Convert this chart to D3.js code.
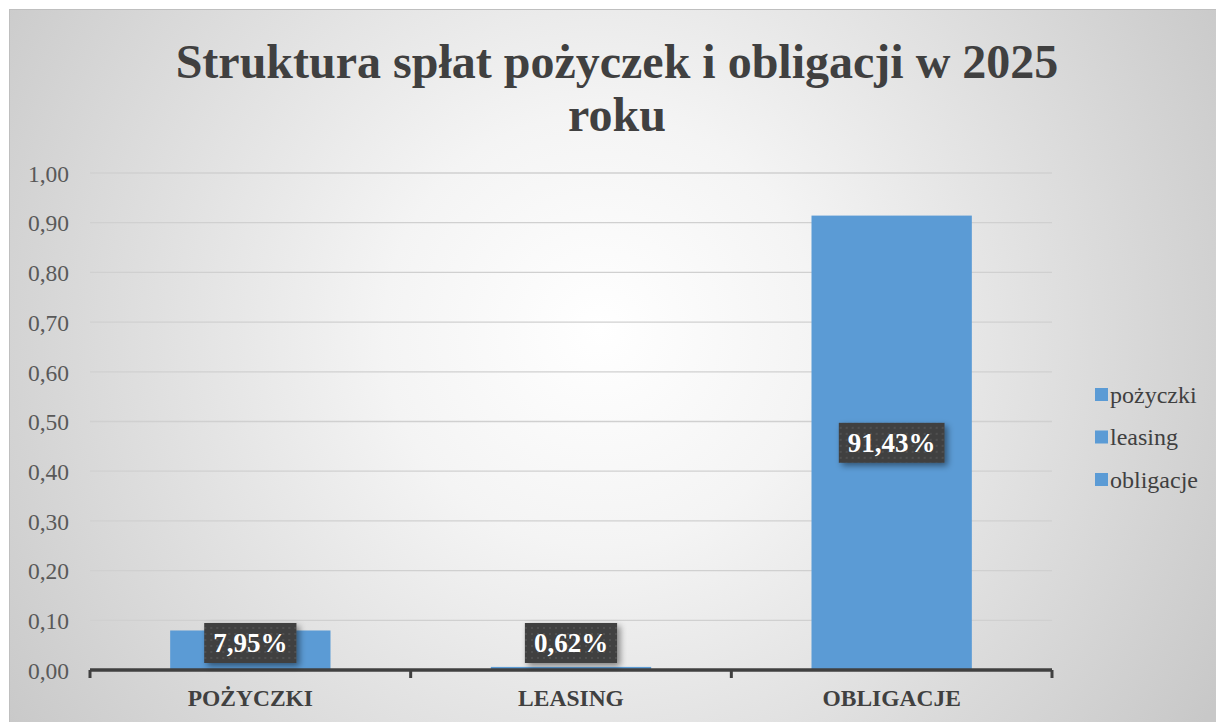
<!DOCTYPE html>
<html><head><meta charset="utf-8">
<script src="https://cdn.jsdelivr.net/npm/d3@7"></script>
<style>body{margin:0;background:#fff}svg{display:block}</style>
</head><body>
<svg id="c" width="1216" height="722"></svg>
<script>
const categories = ["POŻYCZKI", "LEASING", "OBLIGACJE"];
const values = [0.0795, 0.0062, 0.9143];
const labels = ["7,95%", "0,62%", "91,43%"];
const legendItems = ["pożyczki", "leasing", "obligacje"];
const yTicks = [0, 0.1, 0.2, 0.3, 0.4, 0.5, 0.6, 0.7, 0.8, 0.9, 1.0];
const titleLines = ["Struktura spłat pożyczek i obligacji w 2025", "roku"];

const FONT = '"Liberation Serif", "Times New Roman", serif';
const svg = d3.select("#c");
const defs = svg.append("defs");
const rg = defs.append("radialGradient").attr("id","bg")
  .attr("gradientUnits","userSpaceOnUse").attr("cx",600).attr("cy",330).attr("r",720);
rg.append("stop").attr("offset","0%").attr("stop-color","#ffffff");
rg.append("stop").attr("offset","30%").attr("stop-color","#f4f4f4");
rg.append("stop").attr("offset","100%").attr("stop-color","#c8c8c8");
const pat = defs.append("pattern").attr("id","dots").attr("width",6).attr("height",6).attr("patternUnits","userSpaceOnUse");
pat.append("rect").attr("width",6).attr("height",6).attr("fill","#404040");
pat.append("circle").attr("cx",3).attr("cy",3).attr("r",1).attr("fill","#555");
const flt = defs.append("filter").attr("id","sh").attr("x","-20%").attr("y","-20%").attr("width","150%").attr("height","160%");
flt.append("feDropShadow").attr("dx",3).attr("dy",3).attr("stdDeviation",3).attr("flood-color","#000").attr("flood-opacity",0.45);

svg.append("rect").attr("x",0).attr("y",0).attr("width",1216).attr("height",722).attr("fill","#ffffff");
svg.append("rect").attr("x",9.5).attr("y",9.5).attr("width",1220).attr("height",720)
  .attr("fill","url(#bg)").attr("stroke","#bfbfbf").attr("stroke-width",1);

const x = d3.scaleBand().domain(categories).range([90, 1052]).paddingInner(0.5).paddingOuter(0.25);
const y = d3.scaleLinear().domain([0, 1]).range([670, 173]);

// title
svg.append("g").selectAll("text").data(titleLines).join("text")
  .attr("x", 617).attr("y", (d,i)=>78 + i*53)
  .attr("text-anchor","middle").style("font-family",FONT)
  .attr("font-weight","bold").attr("font-size",48).attr("fill","#404040").text(d=>d);

// gridlines
svg.append("g").selectAll("line").data(yTicks.slice(1)).join("line")
  .attr("x1",90).attr("x2",1052).attr("y1",d=>y(d)).attr("y2",d=>y(d))
  .attr("stroke","#d0d0d0").attr("stroke-width",1.3);

// y axis labels
const yAxis = d3.axisLeft(y).tickValues(yTicks).tickSize(0).tickPadding(21)
  .tickFormat(d=>d3.format(".2f")(d).replace(".",","));
const ga = svg.append("g").attr("transform","translate(90,0)").call(yAxis);
ga.select(".domain").remove();
ga.selectAll("text").style("font-family",FONT).attr("font-size",23.5).attr("fill","#595959").attr("dy","0.35em");

// bars
svg.append("g").selectAll("rect").data(values).join("rect")
  .attr("x",(d,i)=>x(categories[i])).attr("width",x.bandwidth())
  .attr("y",d=>y(d)).attr("height",d=>y(0)-y(d)).attr("fill","#5B9BD5");

// x axis
const xAxis = d3.axisBottom(x).tickSize(0).tickPadding(18);
const gx = svg.append("g").attr("transform","translate(0,670)").call(xAxis);
gx.select(".domain").attr("stroke","#404040").attr("stroke-width",3.5).attr("d","M90,0H1052");
gx.selectAll("text").style("font-family",FONT).attr("font-weight","bold").attr("font-size",23.5).attr("fill","#404040").attr("dy","0.78em");
const bounds = [90].concat(categories.map(c=>x(c)+x.bandwidth()+x.step()*x.paddingInner()/2));
bounds[bounds.length-1]=1052;
gx.selectAll("line.sep").data(bounds).join("line").attr("class","sep")
  .attr("x1",d=>d).attr("x2",d=>d).attr("y1",0).attr("y2",8).attr("stroke","#404040").attr("stroke-width",3);

// data labels
const lg = svg.append("g").selectAll("g").data(values).join("g")
  .attr("transform",(d,i)=>{
    const cx = x(categories[i]) + x.bandwidth()/2;
    const mid = (y(d)+y(0))/2;
    const cy = Math.min(mid, y(0)-27);
    return `translate(${cx},${cy})`;
  });
const lr = lg.append("rect").attr("y",-20).attr("height",40)
  .attr("fill","url(#dots)").attr("filter","url(#sh)");
const lt = lg.append("text").attr("text-anchor","middle").attr("dy","0.35em")
  .style("font-family",FONT).attr("font-weight","bold").attr("font-size",27)
  .attr("fill","#ffffff").text((d,i)=>labels[i]);
lt.each(function(d,i){
  const w = this.getComputedTextLength() + 18;
  d3.select(lr.nodes()[i]).attr("x",-w/2).attr("width",w);
});

// legend
const leg = svg.append("g").selectAll("g").data(legendItems).join("g")
  .attr("transform",(d,i)=>`translate(1095,${395 + i*42.5})`);
leg.append("rect").attr("x",0).attr("y",-7).attr("width",13).attr("height",13).attr("fill","#5B9BD5");
leg.append("text").attr("x",15).attr("dy","0.33em").style("font-family",FONT)
  .attr("font-size",24).attr("fill","#404040").text(d=>d);
</script>
</body></html>
